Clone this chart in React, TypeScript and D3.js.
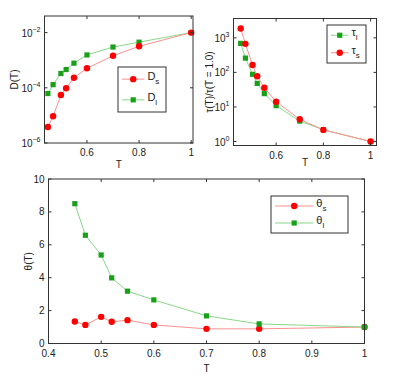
import * as d3 from "d3";

// temperatures shared by every series
const temps = [0.45, 0.47, 0.5, 0.52, 0.55, 0.6, 0.7, 0.8, 1.0];

// diffusion coefficients
const dS = [3.8e-6, 9.3e-6, 5.5e-5, 9.6e-5, 2.3e-4, 5.1e-4, 1.45e-3, 3.2e-3, 1e-2];
const dL = [6.2e-5, 1.3e-4, 3.3e-4, 4.6e-4, 7.8e-4, 1.55e-3, 3.0e-3, 4.5e-3, 1e-2];

// relaxation times normalised at T = 1.0
const tauL = [690, 259, 88, 48, 24.3, 10.9, 3.9, 2.2, 1];
const tauS = [1860, 670, 163, 77, 36, 14.2, 4.4, 2.17, 1];

// theta
const thetaS = [1.34, 1.13, 1.62, 1.32, 1.42, 1.13, 0.89, 0.89, 1.0];
const thetaL = [8.5, 6.58, 5.38, 3.99, 3.18, 2.65, 1.68, 1.19, 1.0];

const xTicksTop = [0.6, 0.8, 1];
const xTicksBottom = [0.4, 0.5, 0.6, 0.7, 0.8, 0.9, 1];
const yTicksD = [-6, -4, -2];
const yTicksTau = [0, 1, 2, 3];
const yTicksTheta = [0, 2, 4, 6, 8, 10];

const RED = "#ff0000";
const RED_LINE = "#ff9090";
const GREEN = "#19a019";
const GREEN_LINE = "#88d888";
const AXIS = "#333";
const FONT = "Liberation Sans, Arial, sans-serif";

type Series = { values: number[]; marker: "circle" | "square"; color: string; line: string };

function Marker({ x, y, kind, color }: { x: number; y: number; kind: string; color: string }) {
  if (kind === "circle") return <circle cx={x} cy={y} r={3.2} fill={color} />;
  return <rect x={x - 2.6} y={y - 2.6} width={5.2} height={5.2} fill={color} />;
}

function Panel(props: {
  x0: number; x1: number; y0: number; y1: number;
  xDomain: [number, number]; yDomain: [number, number]; log: boolean;
  xTicks: number[]; yTicks: number[]; xFmt: (v: number) => string;
  series: Series[]; ylabel: string; ylabelX: number; xlabelY: number;
  legend: { x: number; y: number; w: number; h: number; items: { s: Series; main: string; sub: string }[] };
}) {
  const { x0, x1, y0, y1, log } = props;
  const x = d3.scaleLinear().domain(props.xDomain).range([x0, x1]);
  const y = d3.scaleLinear().domain(props.yDomain).range([y1, y0]);
  const yv = (v: number) => y(log ? Math.log10(v) : v);
  const line = d3.line<number>().x((_, i) => x(temps[i])).y((v) => yv(v));
  const tl = 3;
  const lg = props.legend;
  return (
    <g fontFamily={FONT} fill="#222">
      {props.series.map((s, k) => (
        <g key={k}>
          <path d={line(s.values) || ""} fill="none" stroke={s.line} strokeWidth={1} />
          {s.values.map((v, i) => (
            <Marker key={i} x={x(temps[i])} y={yv(v)} kind={s.marker} color={s.color} />
          ))}
        </g>
      ))}
      <rect x={x0} y={y0} width={x1 - x0} height={y1 - y0} fill="none" stroke={AXIS} strokeWidth={1} />
      {props.xTicks.map((t) => (
        <g key={"x" + t}>
          <line x1={x(t)} x2={x(t)} y1={y1} y2={y1 - tl} stroke={AXIS} />
          <line x1={x(t)} x2={x(t)} y1={y0} y2={y0 + tl} stroke={AXIS} />
          <text x={x(t)} y={y1 + 13} textAnchor="middle" fontSize={10}>{props.xFmt(t)}</text>
        </g>
      ))}
      {props.yTicks.map((t) => (
        <g key={"y" + t}>
          <line x1={x0} x2={x0 + tl} y1={y(t)} y2={y(t)} stroke={AXIS} />
          <line x1={x1} x2={x1 - tl} y1={y(t)} y2={y(t)} stroke={AXIS} />
          {log ? (
            <text x={x0 - 4} y={y(t) + 4} textAnchor="end" fontSize={10}>
              10<tspan dy={-5} fontSize={7}>{String(t).replace("-", "\u2212")}</tspan>
            </text>
          ) : (
            <text x={x0 - 4} y={y(t) + 3.5} textAnchor="end" fontSize={10}>{t}</text>
          )}
        </g>
      ))}
      <text x={(x0 + x1) / 2} y={props.xlabelY} textAnchor="middle" fontSize={10}>T</text>
      <text transform={`translate(${props.ylabelX},${(y0 + y1) / 2}) rotate(-90)`} textAnchor="middle" fontSize={10}>
        {props.ylabel}
      </text>
      <rect x={lg.x} y={lg.y} width={lg.w} height={lg.h} fill="#fff" stroke={AXIS} />
      {lg.items.map((it, i) => {
        const cy = lg.y + lg.h * (i === 0 ? 0.27 : 0.73);
        const lx0 = lg.x + 4;
        const lx1 = lg.x + lg.w * 0.55;
        return (
          <g key={i}>
            <line x1={lx0} x2={lx1} y1={cy} y2={cy} stroke={it.s.line} />
            <Marker x={(lx0 + lx1) / 2} y={cy} kind={it.s.marker} color={it.s.color} />
            <text x={lx1 + 3} y={cy + 1} fontSize={11}>
              {it.main}<tspan dy={4} fontSize={8}>{it.sub}</tspan>
            </text>
          </g>
        );
      })}
    </g>
  );
}

export default function App() {
  const sD: Series = { values: dS, marker: "circle", color: RED, line: RED_LINE };
  const lD: Series = { values: dL, marker: "square", color: GREEN, line: GREEN_LINE };
  const sT: Series = { values: tauS, marker: "circle", color: RED, line: RED_LINE };
  const lT: Series = { values: tauL, marker: "square", color: GREEN, line: GREEN_LINE };
  const sTh: Series = { values: thetaS, marker: "circle", color: RED, line: RED_LINE };
  const lTh: Series = { values: thetaL, marker: "square", color: GREEN, line: GREEN_LINE };
  const fmt = (v: number) => (v === 1 ? "1" : String(v));
  return (
    <svg width={397} height={383} style={{ position: "absolute", left: 0, top: 0 }}>
      <rect width={397} height={383} fill="#fff" />
      <Panel
        x0={44.5} x1={193} y0={16} y1={143}
        xDomain={[0.437, 1.007]} yDomain={[-6, -6 + 127 / 27.6]} log
        xTicks={xTicksTop} yTicks={yTicksD} xFmt={fmt}
        series={[lD, sD]} ylabel="D(T)" ylabelX={18} xlabelY={168}
        legend={{ x: 118, y: 67, w: 48, h: 45, items: [{ s: sD, main: "D", sub: "s" }, { s: lD, main: "D", sub: "l" }] }}
      />
      <Panel
        x0={233.5} x1={376.5} y0={18.5} y1={145.5}
        xDomain={[0.4195, 1.025]} yDomain={[-4 / 34.67, 3 + 19.4 / 34.67]} log
        xTicks={xTicksTop} yTicks={yTicksTau} xFmt={fmt}
        series={[lT, sT]} ylabel="τ(T)/τ(T = 1.0)" ylabelX={213} xlabelY={166}
        legend={{ x: 327, y: 25, w: 39, h: 38, items: [{ s: lT, main: "τ", sub: "l" }, { s: sT, main: "τ", sub: "s" }] }}
      />
      <Panel
        x0={48.5} x1={364.5} y0={179} y1={343.5}
        xDomain={[0.4, 1]} yDomain={[0, 10]} log={false}
        xTicks={xTicksBottom} yTicks={yTicksTheta} xFmt={fmt}
        series={[sTh, lTh]} ylabel="θ(T)" ylabelX={32} xlabelY={372}
        legend={{ x: 271, y: 196, w: 77, h: 37, items: [{ s: sTh, main: "θ", sub: "s" }, { s: lTh, main: "θ", sub: "l" }] }}
      />
    </svg>
  );
}
